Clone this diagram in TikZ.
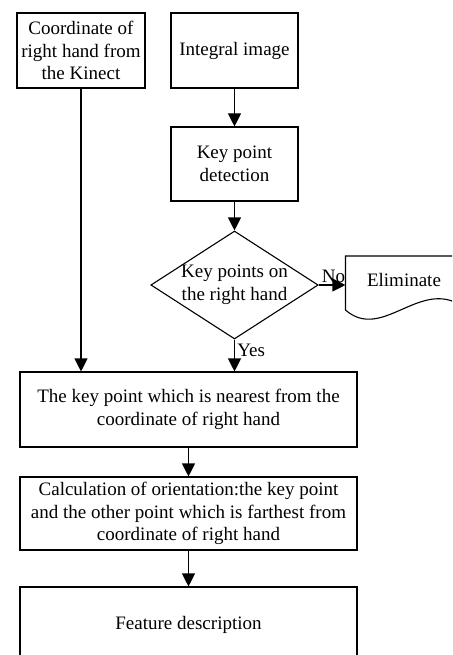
\documentclass[tikz,border=0pt]{standalone}
\usepackage{fontspec}
\setmainfont{Liberation Serif}
\usetikzlibrary{arrows.meta,shapes.geometric}
\begin{document}
\begin{tikzpicture}[x=1pt,y=-1pt,line width=1.1pt,
		font=\fontsize{19}{22.5}\selectfont,
		box/.style={draw, rectangle, align=center, inner sep=2pt, minimum height=75, minimum width=127},
		widebox/.style={box, minimum width=337},
		decide/.style={draw, diamond, aspect=1.55, align=center, inner sep=0pt, minimum width=165, minimum height=108},
		arr/.style={-{Triangle[length=13pt,width=13pt]}}]
		\useasboundingbox (0,0) rectangle (452,655);
		\clip (0,0) rectangle (452,655);
		% Eingaben oben
		\node at (81,50.5) [box, minimum width=128] (coord) {Coordinate of\\right hand from\\the Kinect};
		\node at (234.5,50.5) [box] (integral) {Integral image};
		\node at (234.5,164) [box, minimum height=74] (detect) {Key point\\detection};
		% Entscheidung
		\node at (234.5,285) [decide] (check) {Key points on\\the right hand};
		\node at (404,280) [minimum width=116, minimum height=48, inner sep=0pt] (elim) {Eliminate};
		\draw (elim.west |- 0,310) -- (elim.west |- 0,256) -- (462,256) -- (462,306)
			.. controls (420,278) and (382,342) .. (elim.west |- 0,310);
		% Kasten unten
		\node at (188.5,409.5) [widebox] (nearest) {The key point which is nearest from the\\coordinate of right hand};
		\node at (188.5,513.5) [widebox, minimum height=73] (orient) {Calculation of orientation:the key point\\and the other point which is farthest from\\coordinate of right hand};
		\node at (188.5,625) [widebox, minimum height=76] (feature) {Feature description};
		% Pfeile
		\draw[arr] (integral) -- (detect);
		\draw[arr] (detect) -- (check);
		\draw[arr] (check.east) -- (check.east -| elim.west) node[pos=0.55, above=-2pt] (no) {No};
		\draw[arr] (check.south) -- (check.south |- nearest.north) node[pos=0.35, right=-1pt] (yes) {Yes};
		\draw[arr] (coord.south) -- (coord.south |- nearest.north);
		\draw[arr] (nearest) -- (orient);
		\draw[arr] (orient) -- (feature);
\end{tikzpicture}
\end{document}
